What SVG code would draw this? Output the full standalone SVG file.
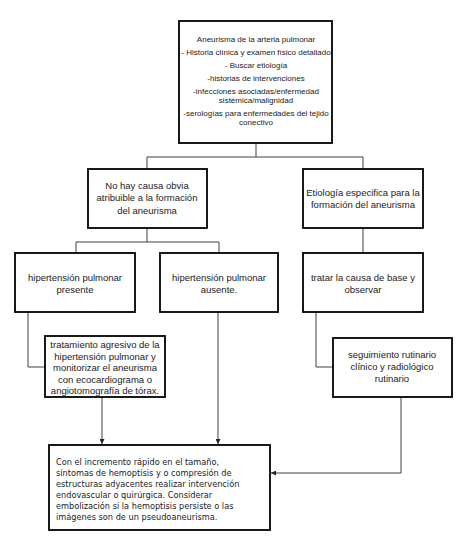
<svg xmlns="http://www.w3.org/2000/svg" width="467" height="540" viewBox="0 0 467 540">
<style>
.box{fill:#fff;stroke:#000;stroke-width:1.8}
.c{fill:none;stroke:#404040;stroke-width:1}
text{font-family:"Liberation Sans",Arial,sans-serif;fill:#222;text-anchor:middle}
.t{font-size:8px}
.m{font-size:9.5px}
.b{font-family:"DejaVu Sans",sans-serif;font-size:8.2px;text-anchor:start}
</style>
<defs>
<marker id="ah" viewBox="0 0 10 10" refX="10" refY="5" markerWidth="5" markerHeight="5" orient="auto"><path d="M0,0L10,5L0,10z" fill="#222"/></marker>
</defs>
<rect width="467" height="540" fill="#fff"/>
<g id="connectors">
<path class="c" d="M256,143V157M147,169V157H363V169"/>
<path class="c" d="M147,228V242M76,253V242H219V253"/>
<path class="c" d="M363,228V253"/>
<path class="c" d="M28,312V367H45"/>
<path class="c" d="M316,312V367H333"/>
<path class="c" d="M102,397V444" marker-end="url(#ah)"/>
<path class="c" d="M218,312V444" marker-end="url(#ah)"/>
<path class="c" d="M401,397V473H271" marker-end="url(#ah)"/>
</g>
<g id="n1">
<rect class="box" x="179" y="21" width="153" height="122"/>
<text class="t" x="256" y="42">Aneurisma de la arteria pulmonar</text>
<text class="t" x="256" y="55">- Historia clínica y examen físico detallado</text>
<text class="t" x="256" y="68">- Buscar etiología</text>
<text class="t" x="256" y="81">-historias de intervenciones</text>
<text class="t" x="256" y="93.5">-infecciones asociadas/enfermedad</text>
<text class="t" x="256" y="103">sistémica/malignidad</text>
<text class="t" x="256" y="115.5">-serologías para enfermedades del tejido</text>
<text class="t" x="256" y="125">conectivo</text>
</g>
<g id="n2">
<rect class="box" x="88" y="169" width="119" height="59"/>
<text class="m" x="147" y="189">No hay causa obvia</text>
<text class="m" x="147" y="201">atribuible a la formación</text>
<text class="m" x="147" y="214">del aneurisma</text>
</g>
<g id="n3">
<rect class="box" x="303" y="169" width="120" height="59"/>
<text class="m" x="363" y="196">Etiología especifica para la</text>
<text class="m" x="363" y="207.5">formación del aneurisma</text>
</g>
<g id="n4">
<rect class="box" x="15" y="253" width="120" height="59"/>
<text class="m" x="75" y="281">hipertensión pulmonar</text>
<text class="m" x="75" y="292.5">presente</text>
</g>
<g id="n5">
<rect class="box" x="160" y="253" width="118" height="59"/>
<text class="m" x="219" y="281">hipertensión pulmonar</text>
<text class="m" x="219" y="292.5">ausente.</text>
</g>
<g id="n6">
<rect class="box" x="303" y="253" width="120" height="59"/>
<text class="m" x="363" y="281">tratar la causa de base y</text>
<text class="m" x="363" y="292.5">observar</text>
</g>
<g id="n7">
<rect class="box" x="45" y="336" width="120" height="61"/>
<text class="m" x="105" y="348">tratamiento agresivo de la</text>
<text class="m" x="105" y="359.5">hipertensión pulmonar y</text>
<text class="m" x="105" y="371">monitorizar el aneurisma</text>
<text class="m" x="105" y="382.5">con ecocardiograma o</text>
<text class="m" x="105" y="394">angiotomografía de tórax.</text>
</g>
<g id="n8">
<rect class="box" x="333" y="338" width="119" height="59"/>
<text class="m" x="392" y="358">seguimiento rutinario</text>
<text class="m" x="392" y="370">clínico y radiológico</text>
<text class="m" x="392" y="382">rutinario</text>
</g>
<g id="n9">
<rect class="box" x="49" y="445" width="221" height="85"/>
<text class="b" x="56" y="465">Con el incremento rápido en el tamaño,</text>
<text class="b" x="56" y="476">síntomas de hemoptisis y o compresión de</text>
<text class="b" x="56" y="487">estructuras adyacentes realizar intervención</text>
<text class="b" x="56" y="498">endovascular o quirúrgica. Considerar</text>
<text class="b" x="56" y="509">embolización si la hemoptisis persiste o las</text>
<text class="b" x="56" y="520">imágenes son de un pseudoaneurisma.</text>
</g>
</svg>
